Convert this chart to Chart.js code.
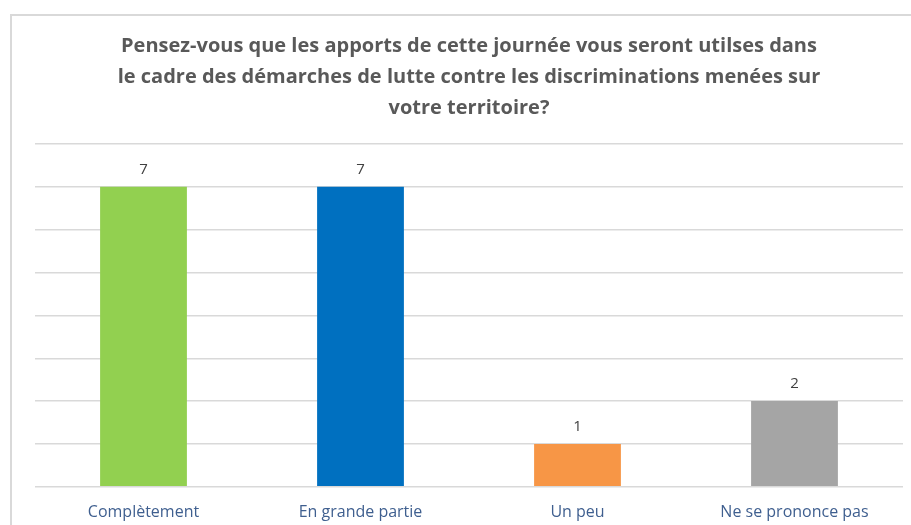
<!DOCTYPE html>
<html>
<head>
<meta charset="utf-8">
<script src="https://cdn.jsdelivr.net/npm/chart.js@4"></script>
<style>
  html, body { margin: 0; padding: 0; background: #fff; overflow: hidden; }
  #frame { position: absolute; left: 10px; top: 14px; width: 1000px; height: 600px; border: 2px solid #d9d9d9; box-sizing: border-box; }
  #wrap { position: absolute; left: 0; top: 0; width: 911px; height: 531px; }
</style>
</head>
<body>
<div id="frame"></div>
<div id="wrap"><canvas id="chart"></canvas></div>
<script>
const categories = ['Complètement', 'En grande partie', 'Un peu', 'Ne se prononce pas'];
const responses = [7, 7, 1, 2];
const barColors = ['#92D050', '#0070C0', '#F79646', '#A5A5A5'];
const titleLines = [
    'Pensez-vous que les apports de cette journée vous seront utilses dans',
    'le cadre des démarches de lutte contre les discriminations menées sur',
    'votre territoire?'
];

// value labels above each bar
const valueLabels = {
    id: 'valueLabels',
    afterDatasetsDraw(chart) {
        const ctx = chart.ctx;
        const meta = chart.getDatasetMeta(0);
        ctx.save();
        ctx.fillStyle = '#404040';
        ctx.font = "15px 'Open Sans', sans-serif";
        ctx.textAlign = 'center';
        ctx.textBaseline = 'middle';
        meta.data.forEach((bar, i) => {
            ctx.fillText(String(chart.data.datasets[0].data[i]), bar.x, bar.y - 17);
        });
        ctx.restore();
    }
};

new Chart(document.getElementById('chart'), {
    type: 'bar',
    data: {
        labels: categories,
        datasets: [{
            data: responses,
            backgroundColor: barColors,
            borderWidth: 0,
            categoryPercentage: 1,
            barPercentage: 0.4
        }]
    },
    options: {
        responsive: true,
        maintainAspectRatio: false,
        animation: false,
        layout: { padding: { left: 35, right: 8, top: 31, bottom: 1 } },
        plugins: {
            legend: { display: false },
            tooltip: { enabled: false },
            title: {
                display: true,
                text: titleLines,
                color: '#595959',
                font: { family: "'Open Sans', sans-serif", size: 20, weight: 'bold', lineHeight: 1.55 },
                padding: { top: 0, bottom: 20 }
            }
        },
        scales: {
            y: {
                min: 0,
                max: 8,
                ticks: { display: false, stepSize: 1 },
                border: { display: false },
                grid: { color: '#d9d9d9', lineWidth: 1.5, drawTicks: false }
            },
            x: {
                border: { display: false },
                grid: { display: false },
                ticks: {
                    color: '#3F5F8F',
                    font: { family: "'Open Sans', sans-serif", size: 16 },
                    padding: 8
                }
            }
        }
    },
    plugins: [valueLabels]
});
</script>
</body>
</html>
